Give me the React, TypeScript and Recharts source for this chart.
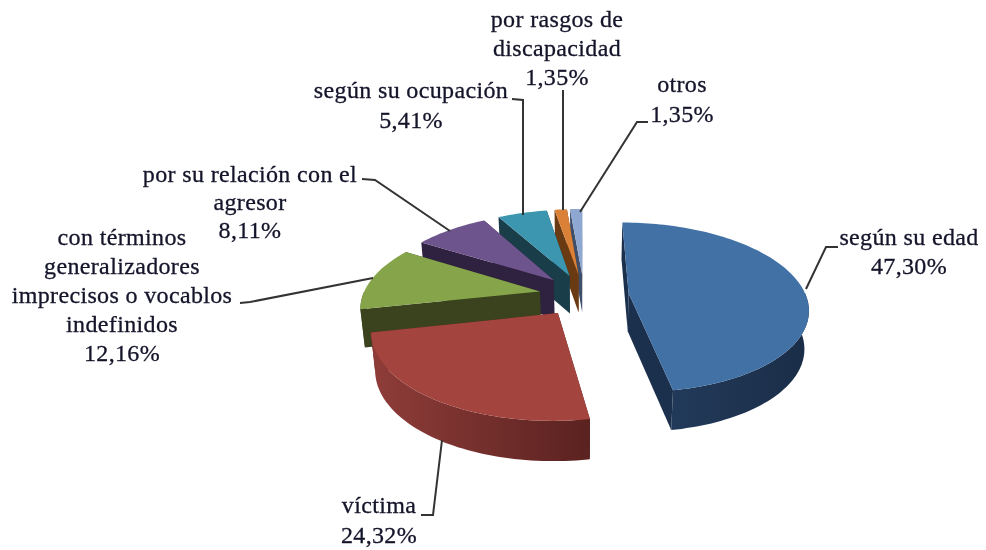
import { PieChart, Pie } from 'recharts';

const categories = [
  'según su edad',
  'víctima',
  'con términos generalizadores imprecisos o vocablos indefinidos',
  'por su relación con el agresor',
  'según su ocupación',
  'por rasgos de discapacidad',
  'otros',
];
const shares = [47.3, 24.32, 12.16, 8.11, 5.41, 1.35, 1.35];

const labelLines = [
  ['según su edad'],
  ['víctima'],
  ['con términos', 'generalizadores', 'imprecisos o vocablos', 'indefinidos'],
  ['por su relación con el', 'agresor'],
  ['según su ocupación'],
  ['por rasgos de', 'discapacidad'],
  ['otros'],
];

// colours per slice: top face, radial wall, outer wall gradient
const topColors = ['#4271A6', '#A4443F', '#86A44A', '#6E548D', '#3C96AF', '#DA8137', '#8EA8D2'];
const wallColors = ['#1B304D', '#5A2320', '#3A431E', '#2F2140', '#1A3D4A', '#6A3A12', '#3F4E6A'];
const arcFrom = ['#223A5A', '#8F3D39', '#3A431E', '#2F2140', '#1A3D4A', '#6A3A12', '#3F4E6A'];
const arcTo = ['#1A2D47', '#5A2220', '#3A431E', '#2F2140', '#1A3D4A', '#6A3A12', '#3F4E6A'];

// where each label sits: centre x, first baseline
const labelAnchors = [
  [909, 245],
  [379, 513],
  [122, 245],
  [250, 182],
  [411, 98],
  [557, 27],
  [682, 92],
];
const lineGaps = [29, 30, 29, 28, 30, 29, 30];
const leaders = [
  '806,289 826,247 838,247',
  '442,440 433,515 421,515',
  '373,278 250,302 240,303',
  '362,179 375,180 450,231',
  '512,99 523,100 523,215',
  '563,90 563,210',
  '648,122 637,122 580,212',
];

const CX = 584;
const CY = 295;
const R = 177;
const EXPLODE = 0.254;
const PERSPECTIVE = 6;
const FLAT = 83;
const DEPTH = 38;
const RAD = Math.PI / 180;

const pieData = categories
  .map((name, idx) => ({ name, value: shares[idx], idx }))
  .reverse();

function project(u: number, v: number, bottom: boolean) {
  const s = PERSPECTIVE / (PERSPECTIVE - v);
  const k = bottom ? 0.98 : 1;
  return {
    x: CX + u * R * s * k,
    y: CY + FLAT * v * s * k + (bottom ? DEPTH * (0.5 + 0.5 * s) : 0),
  };
}

const toPath = (pts: { x: number; y: number }[]) =>
  'M' + pts.map((p) => `${p.x.toFixed(1)},${p.y.toFixed(1)}`).join('L') + 'Z';

function Slice3D(props: any) {
  const { startAngle, endAngle, midAngle, payload } = props;
  const idx = payload.idx;
  const mid = (midAngle ?? (startAngle + endAngle) / 2) * RAD;
  const cu = EXPLODE * Math.cos(mid);
  const cv = -EXPLODE * Math.sin(mid);

  const rim = (deg: number, bottom: boolean) =>
    project(cu + Math.cos(deg * RAD), cv - Math.sin(deg * RAD), bottom);
  const sweep = (from: number, to: number) => {
    const out: number[] = [];
    for (let a = from; a < to; a += 1.5) out.push(a);
    out.push(to);
    return out;
  };

  const angles = sweep(startAngle, endAngle);
  const apexTop = project(cu, cv, false);
  const apexBottom = project(cu, cv, true);

  const frontFrom = Math.max(startAngle, 180);
  const frontTo = Math.min(endAngle, 360);
  const front = frontTo > frontFrom ? sweep(frontFrom, frontTo) : [];

  return (
    <g>
      <defs>
        <linearGradient id={`arc-${idx}`} x1="0" x2="1" y1="0" y2="0">
          <stop offset="0" stopColor={arcFrom[idx]} />
          <stop offset="1" stopColor={arcTo[idx]} />
        </linearGradient>
      </defs>
      <path
        d={toPath([apexTop, rim(startAngle, false), rim(startAngle, true), apexBottom])}
        fill={wallColors[idx]}
      />
      <path
        d={toPath([apexTop, rim(endAngle, false), rim(endAngle, true), apexBottom])}
        fill={wallColors[idx]}
      />
      {front.length > 0 && (
        <path
          d={toPath([
            ...front.map((a) => rim(a, false)),
            ...[...front].reverse().map((a) => rim(a, true)),
          ])}
          fill={`url(#arc-${idx})`}
        />
      )}
      <path d={toPath([apexTop, ...angles.map((a) => rim(a, false))])} fill={topColors[idx]} />
    </g>
  );
}

function SliceLabel(props: any) {
  const idx = props.payload?.idx ?? pieData[props.index].idx;
  const [x, y] = labelAnchors[idx];
  const pct = shares[idx].toFixed(2).replace('.', ',') + '%';
  const lines = [...labelLines[idx], pct];
  return (
    <g>
      <polyline points={leaders[idx]} fill="none" stroke="#333" strokeWidth={2} />
      <text
        textAnchor="middle"
        fontFamily="'Liberation Serif', serif"
        fontSize={24}
        letterSpacing={0.35}
        fill="#14142a"
        stroke="#14142a"
        strokeWidth={0.3}
      >
        {lines.map((line, i) => (
          <tspan key={i} x={x} y={y + i * lineGaps[idx]}>
            {line}
          </tspan>
        ))}
      </text>
    </g>
  );
}

export default function App() {
  return (
    <div
      style={{
        position: 'absolute',
        left: 0,
        top: 0,
        width: 986,
        height: 550,
        background: '#fff',
        filter: 'blur(0.4px)',
      }}
    >
      <PieChart width={986} height={550} margin={{ top: 0, right: 0, bottom: 0, left: 0 }}>
        <Pie
          data={pieData}
          dataKey="value"
          nameKey="name"
          cx={CX}
          cy={CY}
          outerRadius={R}
          startAngle={90}
          endAngle={450}
          stroke="none"
          shape={Slice3D}
          label={SliceLabel}
          labelLine={false}
          isAnimationActive={false}
        />
      </PieChart>
    </div>
  );
}
